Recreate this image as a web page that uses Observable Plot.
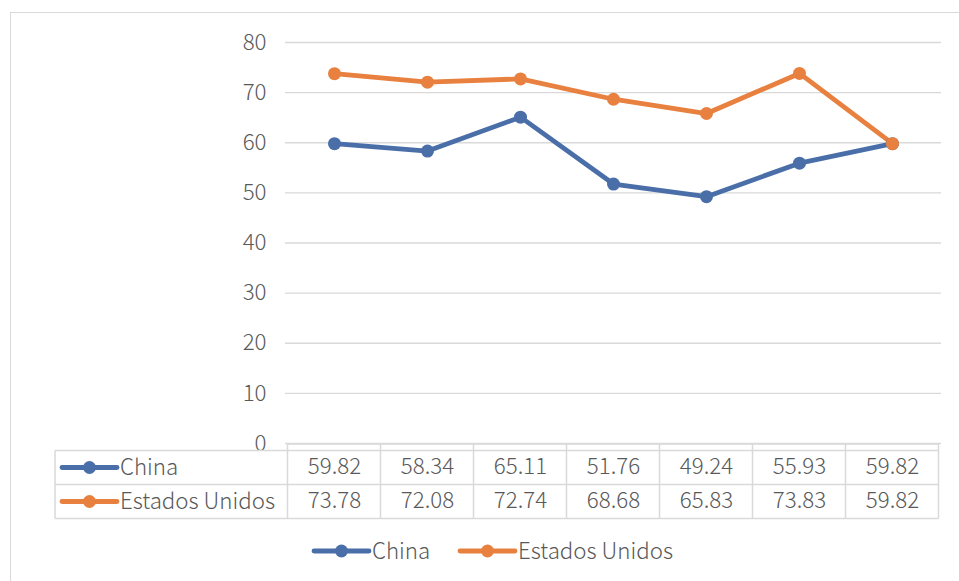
<!DOCTYPE html>
<html>
<head>
<meta charset="utf-8">
<script src="https://cdn.jsdelivr.net/npm/d3@7"></script>
<script src="https://cdn.jsdelivr.net/npm/@observablehq/plot@0.6"></script>
<style>
  html, body { margin: 0; padding: 0; background: #fff; }
  #wrap { position: relative; width: 959px; height: 581px; overflow: hidden; }
  #border { position: absolute; left: 10px; top: 12px; width: 1000px; height: 700px;
            border-left: 1.5px solid #d9d9d9; border-top: 1.5px solid #d9d9d9; box-sizing: border-box; }
  #chart { position: absolute; left: 0; top: 0; }
  #chart text { font-weight: 300; }
</style>
</head>
<body>
<div id="wrap"><div id="border"></div><div id="chart"></div></div>
<script>
const categories = ["1", "2", "3", "4", "5", "6", "7"];
const seriesNames = ["China", "Estados Unidos"];
const china = [59.82, 58.34, 65.11, 51.76, 49.24, 55.93, 59.82];
const estadosUnidos = [73.78, 72.08, 72.74, 68.68, 65.83, 73.83, 59.82];
const yTicks = [0, 10, 20, 30, 40, 50, 60, 70, 80];
const colors = ["#4a6fa8", "#e8813f"];

const seriesValues = [china, estadosUnidos];
const data = seriesNames.flatMap((s, si) =>
  categories.map((c, i) => ({cat: c, series: s, v: seriesValues[si][i]})));

const FONT = "'Noto Sans CJK SC', 'Noto Sans', sans-serif";
const FS = 22.3;
const GRID = "#d9d9d9";
const TXT = "#595959";

const W = 959, H = 581;
const plot = Plot.plot({
  width: W, height: H,
  marginLeft: 285, marginRight: 18, marginTop: 42, marginBottom: 138,
  style: {fontFamily: FONT, fontSize: FS + "px", color: TXT, background: "transparent", overflow: "visible"},
  x: {type: "point", domain: categories, padding: 0.5, axis: null},
  y: {domain: [0, 80], axis: null},
  color: {domain: seriesNames, range: colors},
  marks: [
    Plot.ruleY(yTicks, {stroke: GRID, strokeWidth: 1.4}),
    Plot.axisY({ticks: yTicks, tickSize: 0, tickPadding: 19, fontSize: FS, fill: TXT, label: null}),
    Plot.line(data, {x: "cat", y: "v", z: "series", stroke: "series", strokeWidth: 4.8, strokeLinejoin: "round", curve: "linear"}),
    Plot.dot(data, {x: "cat", y: "v", fill: "series", r: 6.5, stroke: "none"}),
    Plot.text(data.filter(d => d.series === seriesNames[0]),
      {x: "cat", y: () => 0, text: d => d.v.toFixed(2), dy: 23, fill: TXT, fontSize: FS}),
    Plot.text(data.filter(d => d.series === seriesNames[1]),
      {x: "cat", y: () => 0, text: d => d.v.toFixed(2), dy: 57, fill: TXT, fontSize: FS})
  ]
});
document.getElementById("chart").appendChild(plot);

// Data table grid & legend keys, positioned from Plot's own scales
const xs = plot.scale("x");
const ys = plot.scale("y");
const step = xs.step !== undefined ? xs.step : (xs.apply(categories[1]) - xs.apply(categories[0]));
const y0 = ys.apply(0);
const left = xs.apply(categories[0]) - step / 2;
const right = xs.apply(categories[categories.length - 1]) + step / 2;
const tableLeft = 55;
const rowTop = y0 + 7.5, rowH = 34;

const svg = d3.select(plot);
const g = svg.append("g").attr("stroke", GRID).attr("stroke-width", 1.5).attr("fill", "none");
g.append("line").attr("x1", left).attr("x2", right).attr("y1", y0 + 1).attr("y2", y0 + 1);
for (let r = 0; r <= 2; r++) {
  g.append("line").attr("x1", tableLeft).attr("x2", right)
    .attr("y1", rowTop + r * rowH).attr("y2", rowTop + r * rowH);
}
for (let i = 0; i <= categories.length; i++) {
  const x = left + i * step;
  g.append("line").attr("x1", x).attr("x2", x).attr("y1", y0 + 1).attr("y2", rowTop + 2 * rowH);
}
g.append("line").attr("x1", tableLeft).attr("x2", tableLeft).attr("y1", rowTop).attr("y2", rowTop + 2 * rowH);

function legendKey(parent, x, y, color, label) {
  const k = parent.append("g");
  k.append("line").attr("x1", x).attr("x2", x + 55).attr("y1", y).attr("y2", y)
    .attr("stroke", color).attr("stroke-width", 4.8).attr("stroke-linecap", "round");
  k.append("circle").attr("cx", x + 27.5).attr("cy", y).attr("r", 6.5).attr("fill", color);
  k.append("text").attr("x", x + 58).attr("y", y).attr("dy", "0.35em")
    .attr("text-anchor", "start")
    .attr("fill", TXT).attr("font-size", FS).attr("font-family", FONT).text(label);
}
seriesNames.forEach((s, i) => legendKey(svg, 62, rowTop + rowH * (i + 0.5), colors[i], s));
legendKey(svg, 314, 551, colors[0], seriesNames[0]);
legendKey(svg, 460, 551, colors[1], seriesNames[1]);
</script>
</body>
</html>
